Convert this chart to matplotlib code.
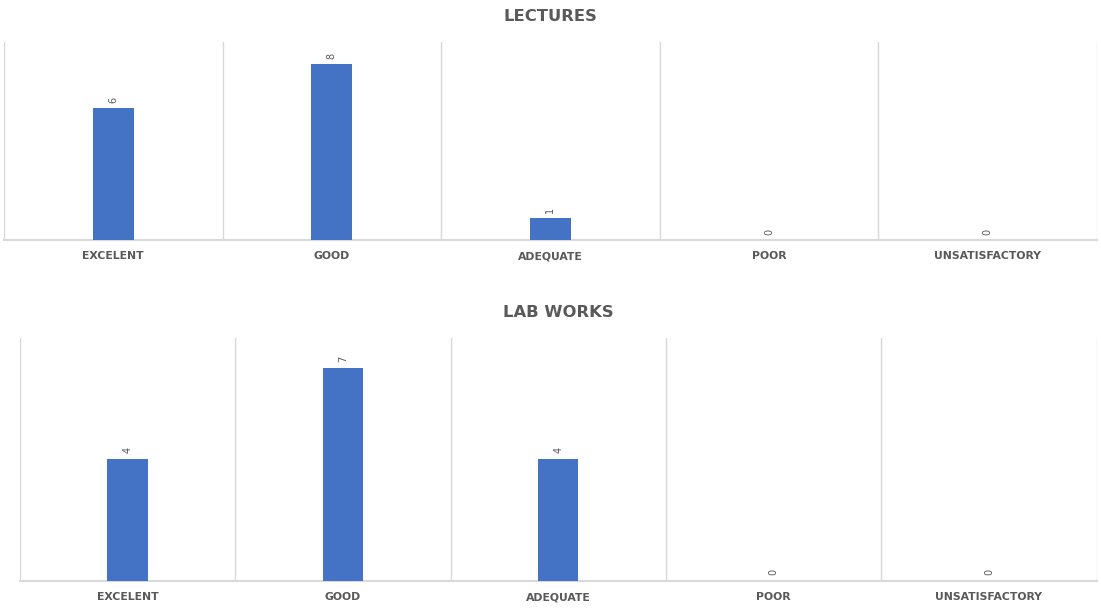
import numpy as np
import matplotlib
matplotlib.use('Agg')
from matplotlib import pyplot as plt

categories = ['EXCELENT', 'GOOD', 'ADEQUATE', 'POOR', 'UNSATISFACTORY']
lectures = [6, 8, 1, 0, 0]
lab_works = [4, 7, 4, 0, 0]

bar_color = '#4472C4'
text_color = '#595959'
grid_color = '#D9D9D9'

plt.rcParams['font.family'] = ['DejaVu Sans']

fig = plt.figure(figsize=(11.01, 6.08), dpi=100)


def draw_panel(ax, values, title, ymax):
    x = np.arange(len(categories))
    ax.bar(x, values, width=0.187, color=bar_color, zorder=3)
    for xi, v in zip(x, values):
        ax.text(xi, v + ymax * 0.025, str(v), rotation=90, ha='center', va='bottom',
                fontsize=7, color=text_color)
    ax.set_xlim(-0.5, len(categories) - 0.5)
    ax.set_ylim(0, ymax)
    for b in np.arange(-0.5, len(categories), 1.0):
        ax.axvline(b, color=grid_color, lw=1, zorder=1)
    for s in ['top', 'right', 'left']:
        ax.spines[s].set_visible(False)
    ax.spines['bottom'].set_color(grid_color)
    ax.spines['bottom'].set_linewidth(1.5)
    ax.set_yticks([])
    ax.set_xticks(x)
    ax.set_xticklabels(categories, fontsize=7.8, fontweight='bold', color=text_color)
    ax.tick_params(axis='x', length=0, pad=8)
    ax.set_title(title, fontsize=11.8, fontweight='bold', color=text_color, pad=15)


ax1 = fig.add_axes([0.0036, 0.605, 0.9927, 0.326])
draw_panel(ax1, lectures, 'LECTURES', 9)

ax2 = fig.add_axes([0.018, 0.0444, 0.978, 0.40])
draw_panel(ax2, lab_works, 'LAB WORKS', 8)

fig.savefig('out.png', dpi=100)
